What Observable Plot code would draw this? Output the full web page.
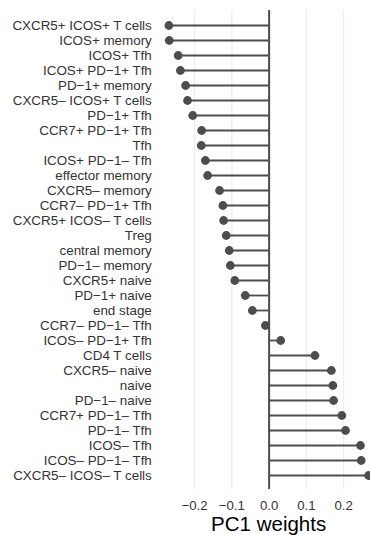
<!DOCTYPE html>
<html>
<head>
<meta charset="utf-8">
<script src="https://cdn.jsdelivr.net/npm/d3@7"></script>
<script src="https://cdn.jsdelivr.net/npm/@observablehq/plot@0.6"></script>
<style>
  html, body { margin: 0; padding: 0; background: #fff; overflow: hidden; }
  #chart { width: 370px; height: 535px; }
</style>
</head>
<body>
<div id="chart"></div>
<script>
// Cell populations, in plotted order (top to bottom)
const cellTypes = [
  "CXCR5+ ICOS+ T cells",
  "ICOS+ memory",
  "ICOS+ Tfh",
  "ICOS+ PD−1+ Tfh",
  "PD−1+ memory",
  "CXCR5– ICOS+ T cells",
  "PD−1+ Tfh",
  "CCR7+ PD−1+ Tfh",
  "Tfh",
  "ICOS+ PD−1– Tfh",
  "effector memory",
  "CXCR5– memory",
  "CCR7– PD−1+ Tfh",
  "CXCR5+ ICOS– T cells",
  "Treg",
  "central memory",
  "PD−1– memory",
  "CXCR5+ naive",
  "PD−1+ naive",
  "end stage",
  "CCR7– PD−1– Tfh",
  "ICOS– PD−1+ Tfh",
  "CD4 T cells",
  "CXCR5– naive",
  "naive",
  "PD−1– naive",
  "CCR7+ PD−1– Tfh",
  "PD−1– Tfh",
  "ICOS– Tfh",
  "ICOS– PD−1– Tfh",
  "CXCR5– ICOS– T cells"
];

// Loading of each population on the first principal component
const pc1Weights = [
  -0.269, -0.268, -0.244, -0.238, -0.224, -0.219, -0.205, -0.181,
  -0.182, -0.171, -0.165, -0.133, -0.124, -0.122, -0.115, -0.107,
  -0.104, -0.092, -0.064, -0.045, -0.010, 0.031, 0.123, 0.167,
  0.171, 0.173, 0.195, 0.205, 0.245, 0.247, 0.267
];

const xTicks = [-0.2, -0.1, 0, 0.1, 0.2];
const xTitle = "PC1 weights";

const rows = cellTypes.map((name, i) => ({name, weight: pc1Weights[i]}));

const ink = "#4d4d4d";

const chart = Plot.plot({
  width: 370,
  height: 535,
  marginLeft: 158.3,
  marginRight: 0,
  marginTop: 10,
  marginBottom: 46,
  style: {fontFamily: "'Liberation Sans', Arial, sans-serif", background: "#fff"},
  x: {domain: [-0.296, 0.272]},
  y: {type: "point", domain: cellTypes, padding: 0.6},
  marks: [
    Plot.gridX(xTicks, {stroke: "#ebebeb", strokeOpacity: 1, strokeWidth: 1.1}),
    Plot.ruleY(rows, {y: "name", x1: 0, x2: "weight", stroke: ink, strokeWidth: 1.8}),
    Plot.ruleX([0], {stroke: ink, strokeWidth: 2}),
    Plot.dot(rows, {x: "weight", y: "name", r: 4.4, fill: ink, stroke: "none"}),
    Plot.axisY({tickSize: 0, tickPadding: 7, fontSize: 13.4, label: null, color: "#333"}),
    Plot.axisX(xTicks, {tickSize: 0, tickPadding: 11.5, fontSize: 13.2, label: null,
                        tickFormat: d3.format(".1f"), color: "#333"}),
    Plot.text([xTitle], {text: d => d, frameAnchor: "bottom", lineAnchor: "middle",
                         dy: 35.4, dx: 4, fontSize: 20.5, fill: "#000"})
  ]
});

document.getElementById("chart").append(chart);
</script>
</body>
</html>
